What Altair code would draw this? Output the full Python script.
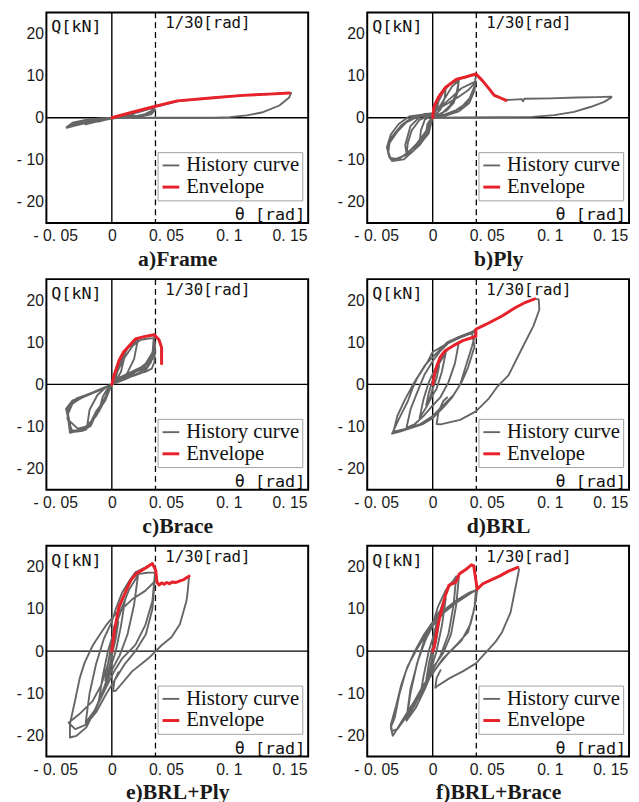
import altair as alt
import pandas as pd

# ---------------- data ----------------
SERIES = ["History curve", "Envelope"]
PANEL_TITLES = ["a)Frame", "b)Ply", "c)Brace", "d)BRL", "e)BRL+Ply", "f)BRL+Brace"]
X_TICKS = [-0.05, 0.0, 0.05, 0.1, 0.15]
X_TICK_LABELS = ["- 0. 05", "0", "0. 05", "0. 1", "0. 15"]
Y_GRID = [-20, -15, -10, -5, 0, 5, 10, 15, 20]
Y_TICK_LABELS = {-20: "- 20", -10: "- 10", 0: "0", 10: "10", 20: "20"}
LIMIT_DRIFT = 1 / 30

FRAME_HIST = [
    (0, 0), (0.003, 0.3), (0.005, 0.5), (0.003, 0.2), (0, -0.1), (-0.003, -0.3), (-0.005, -0.5), (-0.003, -0.2), (0, 0),
    (0.005, 0.4), (0.01, 0.8), (0.007, 0.4), (0.003, 0.1), (0, -0.1), (-0.005, -0.5), (-0.01, -0.9), (-0.007, -0.5), (-0.003, -0.2), (0, 0),
    (0.007, 0.4), (0.014, 0.9), (0.02, 1.5), (0.016, 0.8), (0.01, 0.3), (0.004, 0.05), (0, -0.2), (-0.007, -0.6), (-0.014, -1.1),
    (-0.02, -1.6), (-0.016, -1.0), (-0.01, -0.5), (-0.004, -0.2), (0, 0),
    (0.01, 0.6), (0.02, 1.3), (0.027, 1.9), (0.0333, 2.6), (0.03, 1.6), (0.025, 0.8), (0.018, 0.3), (0.01, 0.1), (0, -0.2),
    (-0.01, -0.7), (-0.02, -1.3), (-0.028, -1.9), (-0.0345, -2.4), (-0.03, -1.5), (-0.022, -0.8), (-0.012, -0.3), (0, 0),
    (0.01, 0.2), (0.02, 0.5), (0.028, 1.0), (0.0333, 1.9), (0.03, 0.8), (0.02, 0.2), (0.01, 0), (0, -0.1), (-0.01, -0.5),
    (-0.02, -1.0), (-0.028, -1.6), (-0.0345, -2.2), (-0.03, -1.2), (-0.02, -0.5), (-0.01, -0.2), (0, 0),
    (0.01, 0.7), (0.02, 1.5), (0.0333, 2.6), (0.05, 3.9), (0.075, 4.7), (0.1, 5.3), (0.12, 5.6), (0.137, 5.9),
    (0.1355, 4.8), (0.128, 2.9), (0.1155, 1.3), (0.103, 0.55), (0.09, 0.15), (0.078, 0), (0.05, 0), (0.02, 0), (0, 0),
]
FRAME_ENV = [(0, 0), (0.0155, 1.3), (0.0325, 2.65), (0.05, 4.0), (0.0755, 4.7), (0.1, 5.3), (0.12, 5.6), (0.1355, 5.86)]

PLY_HIST = [
    (0, 0), (0.002, 2.5), (0.005, 4.5), (0.003, 1.8), (0, 0.3), (-0.002, -1.8), (-0.005, -3.5), (-0.004, -1.5), (0, 0.4),
    (0.003, 3), (0.007, 5.8), (0.01, 7), (0.009, 4.5), (0.006, 2), (0.002, 0.6), (0, 0.3), (-0.003, -3), (-0.007, -5),
    (-0.01, -6), (-0.009, -3), (-0.006, -0.5), (0, 0.8),
    (0.003, 3), (0.008, 6), (0.013, 8), (0.02, 8.9), (0.019, 6), (0.016, 3.5), (0.011, 1.8), (0.005, 0.8), (0, 0.3),
    (-0.003, -3.5), (-0.01, -6.5), (-0.017, -8.5), (-0.02, -8.8), (-0.019, -6), (-0.016, -3), (-0.01, -0.5), (0, 0.9),
    (0.005, 2.5), (0.01, 5), (0.015, 7.5), (0.02, 8.7), (0.018, 5.5), (0.013, 2.8), (0.007, 1.0), (0, 0.4),
    (-0.005, -3.5), (-0.012, -6.5), (-0.02, -8.4), (-0.021, -6.5), (-0.017, -2), (-0.01, 0.2), (0, 0.9),
    (0.001, 2.6), (0.0045, 4.9), (0.0095, 7.1), (0.018, 9.1), (0.0245, 9.6), (0.033, 10.3), (0.032, 7.5), (0.028, 4.5),
    (0.021, 2.2), (0.012, 0.9), (0, 0.2), (-0.003, -3.7), (-0.007, -5.2), (-0.014, -7.6), (-0.022, -9.9), (-0.031, -10.3),
    (-0.034, -8.5), (-0.033, -6), (-0.027, -3.3), (-0.0205, -1.2), (-0.012, 0.2), (-0.004, 0.8), (0, 1),
    (0.004, 2), (0.012, 3.5), (0.02, 5), (0.027, 6.5), (0.033, 8.5), (0.031, 6), (0.026, 3.5), (0.018, 1.8), (0.008, 0.6),
    (0, 0), (-0.004, -3), (-0.01, -5.5), (-0.018, -8), (-0.025, -9.6), (-0.032, -9.9), (-0.0345, -7.5), (-0.031, -4.5),
    (-0.024, -1.8), (-0.016, 0), (-0.006, 0.9), (0, 1),
    (0.006, 2.5), (0.015, 5), (0.022, 7), (0.03, 8.2), (0.033, 8.6), (0.032, 6.5), (0.028, 3.5), (0.02, 1.5),
    (0.01, 0.5), (0, 0), (-0.005, -3.2), (-0.013, -6.5), (-0.02, -8.8), (-0.028, -9.8), (-0.033, -9.5), (-0.035, -7),
    (-0.032, -4), (-0.026, -1.5), (-0.018, 0.3), (0, 1.1),
    (0.001, 3), (0.005, 5.3), (0.01, 7.3), (0.018, 9.2), (0.025, 9.7), (0.033, 10.2), (0.038, 8.8), (0.043, 6.9),
    (0.047, 5.3), (0.051, 4.8), (0.056, 4.2), (0.062, 4.3), (0.068, 4.4), (0.069, 3.9), (0.07, 4.5), (0.09, 4.6),
    (0.11, 4.8), (0.125, 4.9), (0.1365, 5.0), (0.1365, 4.8), (0.131, 3.75), (0.121, 2.6), (0.108, 1.4), (0.093, 0.6),
    (0.076, 0.2), (0.05, 0.1), (0.02, 0.05), (0, 0),
]
PLY_ENV = [(0, 0), (0.001, 2.6), (0.0045, 4.9), (0.0095, 7.1), (0.018, 9.1), (0.0245, 9.6), (0.033, 10.4),
           (0.038, 8.8), (0.043, 6.9), (0.047, 5.3), (0.051, 4.8), (0.056, 4.1)]

BRACE_HIST = [
    (0, 0), (0.002, 2), (0.005, 4), (0.003, 1.5), (0, 0), (-0.003, -2), (-0.005, -3.5), (-0.003, -1), (0, 0),
    (0.005, 3.5), (0.01, 7), (0.007, 3), (0.003, 0.8), (0, 0), (-0.005, -3.5), (-0.01, -6.5), (-0.007, -3), (-0.003, -0.8), (0, 0),
    (0.006, 5), (0.012, 8.5), (0.02, 10.8), (0.017, 6), (0.011, 2.2), (0.004, 0.5), (0, 0), (-0.006, -4), (-0.012, -7.5),
    (-0.019, -10.2), (-0.017, -6), (-0.011, -2.5), (-0.004, -0.5), (0, 0),
    (0.0018, 2.2), (0.0055, 5.7), (0.009, 7.7), (0.018, 10.8), (0.0255, 11.4), (0.0325, 11.8), (0.032, 9), (0.03, 5.3),
    (0.025, 3), (0.016, 2), (0.006, 0.8), (0, 0), (-0.0045, -3.3), (-0.012, -6.4), (-0.017, -9.5), (-0.02, -10.8),
    (-0.026, -11.1), (-0.032, -11.5), (-0.033, -9), (-0.034, -6), (-0.027, -3.3), (-0.0195, -2.5), (-0.0095, -1.3), (0, 0),
    (0.006, 1), (0.0155, 2.2), (0.0255, 3), (0.0305, 3.75), (0.0325, 5.3), (0.033, 8.4), (0.033, 10), (0.03, 6.5),
    (0.025, 4), (0.015, 2.5), (0.005, 1), (0, 0), (-0.006, -4), (-0.013, -7.5), (-0.018, -10), (-0.024, -10.8),
    (-0.031, -11), (-0.0335, -7), (-0.03, -4.5), (-0.022, -3), (-0.012, -1.5), (0, 0),
    (0.005, 1.5), (0.015, 3), (0.025, 4.5), (0.031, 6), (0.033, 9.5), (0.031, 7.5), (0.026, 5), (0.018, 3),
    (0.008, 1.2), (0, 0), (-0.005, -3.8), (-0.012, -7), (-0.016, -9.8), (-0.022, -11), (-0.03, -11.3), (-0.034, -8),
    (-0.032, -5), (-0.025, -3.5), (-0.015, -2), (0, 0),
    (0.004, 3), (0.01, 6.5), (0.016, 9.2), (0.022, 10.6), (0.028, 10.9), (0.032, 11), (0.031, 7), (0.027, 4),
    (0.02, 2.6), (0.01, 1.2), (0, 0), (-0.008, -4.8), (-0.014, -8.2), (-0.02, -10), (-0.026, -10.5), (-0.033, -8.5),
    (-0.035, -5.8), (-0.03, -3.8), (-0.02, -2.8), (-0.01, -1.5), (0, 0),
    (0.0018, 2.2), (0.0055, 5.7), (0.009, 7.7), (0.018, 10.8), (0.0255, 11.4), (0.0325, 11.7), (0.036, 10.5),
    (0.038, 8.8), (0.038, 5),
]
BRACE_ENV = [(0, 0), (0.00175, 2.2), (0.0055, 5.7), (0.009, 7.7), (0.018, 10.8), (0.0255, 11.4), (0.0325, 11.8),
             (0.036, 10.6), (0.038, 8.8), (0.038, 4.9)]

BRL_HIST = [
    (0, 0), (0.002, 2.5), (0.005, 4.5), (0.003, 1.5), (0, -1), (-0.002, -3), (-0.005, -5), (-0.003, -2), (0, 1),
    (0.004, 4.5), (0.01, 7.5), (0.007, 3), (0.003, -1), (0, -2.5), (-0.005, -5.5), (-0.01, -8), (-0.007, -3.5),
    (-0.003, 0.5), (0, 2.5),
    (0.006, 6), (0.012, 8.5), (0.02, 10), (0.017, 5), (0.012, 0.5), (0.006, -3), (0, -5), (-0.007, -7.5), (-0.014, -9.5),
    (-0.02, -10.3), (-0.017, -6), (-0.012, -2), (-0.006, 2.5), (0, 5.5),
    (0.006, 8), (0.012, 9.8), (0.02, 11), (0.028, 12), (0.033, 12.5), (0.03, 9), (0.025, 4), (0.021, 0), (0.015, -3),
    (0.008, -5.5), (0, -8), (-0.008, -9.5), (-0.018, -10.5), (-0.025, -11.2), (-0.031, -11.7), (-0.0255, -8),
    (-0.019, -4), (-0.0155, -1), (-0.012, 1.4), (-0.004, 5.3), (0, 7.7),
    (0.01, 9.5), (0.02, 11), (0.03, 12.2), (0.032, 9), (0.027, 4), (0.022, 0.5), (0.016, -2.5), (0.008, -5),
    (0, -7.5), (-0.01, -9.5), (-0.02, -10.5), (-0.03, -11.2), (-0.027, -7.5), (-0.021, -3.5), (-0.014, 0.5),
    (-0.006, 4.5), (0, 6.5),
    (0.011, 10), (0.02, 11.3), (0.03, 12.5),
    (0.033, 13.1), (0.041, 14.3), (0.053, 16.25), (0.063, 18.2), (0.071, 19.5), (0.078, 20.3), (0.081, 20.2),
    (0.0815, 17.8), (0.077, 13.9), (0.068, 8.4), (0.058, 2.2), (0.0495, -0.5), (0.043, -3.3), (0.033, -6.4),
    (0.021, -8.4), (0.006, -9.5), (0.003, -9.4), (0.0045, -6.4), (0.008, -4), (0.011, -3.1),
]
BRL_ENV = [(0, 0), (0.00125, 2.2), (0.00325, 4.5), (0.00575, 6.5), (0.0095, 8.0), (0.0158, 9.2), (0.023, 10.4),
           (0.031, 11.2), (0.033, 11.4), (0.033, 13.1), (0.041, 14.3), (0.053, 16.25), (0.063, 18.2), (0.071, 19.5),
           (0.078, 20.3)]

BRLPLY_HIST = [
    (0, 0), (0.002, 4), (0.005, 7), (0.003, 3), (0, -1), (-0.002, -4), (-0.005, -7), (-0.003, -3), (0, 1),
    (0.004, 7), (0.01, 12), (0.007, 6), (0.003, 0), (0, -3), (-0.004, -7), (-0.01, -12), (-0.007, -6), (-0.003, 0), (0, 3),
    (0.006, 9), (0.013, 14.5), (0.02, 18), (0.017, 11), (0.012, 4), (0.006, -1), (0, -4.5), (-0.006, -9), (-0.013, -14),
    (-0.02, -17), (-0.017, -10), (-0.012, -3), (-0.006, 3), (0, 7),
    (0.003, 10), (0.008, 14), (0.014, 17), (0.02, 18.3), (0.027, 18.6), (0.033, 18.7), (0.031, 11.9), (0.0255, 6.1),
    (0.018, 1.5), (0.008, -1.7), (0.0018, -4.8), (-0.005, -9), (-0.012, -13.5), (-0.0195, -18.1), (-0.027, -20.1),
    (-0.032, -20.5), (-0.032, -17.3), (-0.028, -11.6), (-0.0245, -6.4), (-0.021, -2.9), (-0.018, -0.9), (-0.0145, 1.4),
    (-0.0095, 3.75), (-0.0045, 6.1), (0, 7.8), (0.004, 9.2), (0.0105, 10.8), (0.0155, 12.3), (0.0255, 14.3),
    (0.032, 16.3), (0.033, 17.5), (0.031, 10), (0.026, 4), (0.018, 0), (0.01, -3), (0.003, -6.5), (-0.004, -10),
    (-0.012, -14.5), (-0.02, -17.5), (-0.028, -18.5), (-0.033, -17), (-0.025, -15), (-0.015, -12), (-0.008, -8),
    (-0.003, -3), (0, 2), (0.002, 6),
    (0.002, 5), (0.0055, 10.1), (0.0105, 14), (0.0143, 17.1), (0.018, 18.7), (0.0256, 19.9), (0.031, 20.8),
    (0.0335, 19.2), (0.0345, 16.4), (0.036, 15.7), (0.038, 16.2), (0.04, 15.9), (0.042, 16.3), (0.044, 16.0),
    (0.046, 16.4), (0.049, 16.3), (0.052, 16.7), (0.055, 17.0), (0.057, 17.4), (0.059, 17.8), (0.058, 14.3),
    (0.057, 11.9), (0.052, 6.4), (0.0455, 3.3), (0.038, 1.4), (0.028, -1.7), (0.0155, -4.8), (0.003, -9.4),
    (0.001, -9.5), (0.002, -7), (0.005, -5),
]
BRLPLY_ENV = [(0, 0), (0.002, 5), (0.0055, 10.6), (0.0105, 14.1), (0.0145, 16.8), (0.0185, 18.4), (0.0256, 19.7),
              (0.031, 20.8), (0.0335, 19.2), (0.0345, 16.4), (0.036, 15.7), (0.038, 16.2), (0.04, 15.9),
              (0.042, 16.3), (0.044, 16.0), (0.046, 16.4), (0.049, 16.3), (0.052, 16.7), (0.055, 17.0),
              (0.057, 17.4), (0.059, 17.8)]

BRLBRACE_HIST = [
    (0, 0), (0.002, 4), (0.005, 7), (0.003, 3), (0, -1), (-0.002, -4), (-0.005, -7), (-0.003, -3), (0, 1),
    (0.004, 7), (0.01, 12.5), (0.007, 6), (0.003, 0), (0, -3), (-0.004, -7), (-0.01, -11.5), (-0.007, -6), (-0.003, 0), (0, 3),
    (0.005, 9), (0.012, 15), (0.018, 17.8), (0.016, 11), (0.012, 4), (0.006, -1), (0, -4.5), (-0.006, -9), (-0.013, -13.5),
    (-0.02, -16.5), (-0.017, -10), (-0.012, -3), (-0.006, 3), (0, 6.5),
    (0.004, 10.5), (0.01, 14.5), (0.015, 16.5), (0.02, 17.6), (0.018, 11), (0.014, 4), (0.008, -0.5), (0, -4),
    (-0.007, -8.5), (-0.014, -13), (-0.02, -16), (-0.017, -9), (-0.011, -2), (-0.005, 3), (0, 6),
    (0.004, 9), (0.007, 10.1), (0.0095, 13), (0.0125, 15.7), (0.0175, 16.3), (0.0205, 18.4), (0.025, 19.3),
    (0.0296, 20.5), (0.0313, 20.3), (0.0338, 15.2), (0.034, 14.7),
    (0.033, 12), (0.031, 9.2), (0.027, 4.5), (0.018, 1.4), (0.008, -1.7), (0.001, -4.8), (-0.007, -8), (-0.014, -11.9),
    (-0.022, -15.8), (-0.028, -18.9), (-0.0305, -20.1), (-0.032, -18.1), (-0.029, -15.8), (-0.0255, -10.3),
    (-0.0205, -4.8), (-0.014, -0.2), (-0.007, 3.75), (0, 6.9), (0.008, 9.6), (0.018, 12), (0.028, 13.9), (0.033, 14.5),
    (0.032, 10.5), (0.029, 6.5), (0.022, 2.5), (0.012, -0.5), (0.004, -3.5), (-0.005, -7.5), (-0.013, -12),
    (-0.021, -16), (-0.027, -18.5), (-0.031, -19), (-0.032, -17.5), (-0.028, -13), (-0.024, -8), (-0.019, -3.5),
    (-0.012, 0.5), (-0.005, 4), (0, 6), (0.008, 9), (0.018, 11.5), (0.028, 13.5), (0.034, 14.7),
    (0.038, 15.9), (0.043, 16.6), (0.051, 17.8), (0.058, 19), (0.065, 19.9), (0.066, 19.4), (0.063, 14.7),
    (0.0595, 9.2), (0.053, 4.5), (0.048, 2.2), (0.041, -0.2), (0.033, -2.9), (0.023, -4.8), (0.013, -6.4),
    (0.003, -8.4), (0.002, -8.7), (0.003, -6.4), (0.006, -4.5),
]
BRLBRACE_ENV = [(0, 0), (0.0012, 1), (0.004, 6.2), (0.007, 10.1), (0.0095, 13), (0.0125, 15.7), (0.0175, 16.3),
                (0.0205, 18.4), (0.025, 19.3), (0.0296, 20.5), (0.0313, 20.3), (0.0338, 15.2), (0.034, 14.7),
                (0.0383, 16.0), (0.0459, 17.1), (0.051, 17.8), (0.058, 19), (0.065, 19.9)]

PANELS = [
    (FRAME_HIST, FRAME_ENV), (PLY_HIST, PLY_ENV), (BRACE_HIST, BRACE_ENV),
    (BRL_HIST, BRL_ENV), (BRLPLY_HIST, BRLPLY_ENV), (BRLBRACE_HIST, BRLBRACE_ENV),
]

# ---------------- styling ----------------
GRAY = "#656565"
RED = "#e8222a"
MONO = "DejaVu Sans Mono"
SANS = "Liberation Sans"
SERIF = "Liberation Serif"
W, H = 266, 214
X_LABEL_SHIFT = [9, 0, -11.5, -14, -19]

x_expr = "'" + X_TICK_LABELS[-1] + "'"
for k in reversed(range(len(X_TICKS) - 1)):
    mid = (X_TICKS[k] + X_TICKS[k + 1]) / 2
    x_expr = f"datum.value < {mid} ? '{X_TICK_LABELS[k]}' : ({x_expr})"

y_expr = "''"
for v, lab in Y_TICK_LABELS.items():
    y_expr = f"abs(datum.value - ({v})) < 0.01 ? '{lab}' : ({y_expr})"

x_offset = {
    "condition": [
        {"test": f"abs(datum.value - ({t})) < 0.001", "value": s}
        for t, s in zip(X_TICKS, X_LABEL_SHIFT)
    ],
    "value": 0,
}
x_grid_color = {
    "condition": {"test": "datum.value < -0.049 || datum.value > 0.149", "value": "transparent"},
    "value": "#d4d4d4",
}

xs = alt.Scale(domain=[-0.05, 0.15], nice=False, zero=False)
ys = alt.Scale(domain=[-25, 25], nice=False, zero=False)
cs = alt.Scale(domain=SERIES, range=[GRAY, RED])
ws = alt.Scale(domain=SERIES, range=[1.9, 3.0])

one = pd.DataFrame({"k": [0]})


def make_panel(hist, env, title):
    xa = alt.Axis(values=X_TICKS, labelExpr=x_expr, labelOffset=x_offset, labelFlush=False, labelOverlap=False,
                  gridColor=x_grid_color, title=title, titleFont=SERIF, titleFontSize=22, titleFontWeight="bold",
                  titleColor="#1a1a1a", titlePadding=5, labelPadding=5, minExtent=21, maxExtent=21)
    ya = alt.Axis(values=Y_GRID, labelExpr=y_expr, title=None, labelPadding=3, minExtent=33, maxExtent=33,
                  labelOverlap=False, labelFlush=False)
    leg = alt.Legend(title=None, orient="none", legendX=113, legendY=142, symbolType="stroke", symbolSize=289,
                     labelFont=SERIF, labelFontSize=21, labelColor="#111", strokeColor="#a0a0a0",
                     fillColor="white", padding=3, rowPadding=0, labelOffset=5)

    hdf = pd.DataFrame(hist, columns=["t", "q"])
    hdf["i"] = range(len(hdf))
    hdf["s"] = SERIES[0]
    edf = pd.DataFrame(env, columns=["t", "q"])
    edf["i"] = range(len(edf))
    edf["s"] = SERIES[1]

    def xd(v):
        return alt.XDatum(v, type="quantitative", scale=xs, axis=xa)

    def yd(v):
        return alt.YDatum(v, type="quantitative", scale=ys, axis=ya)

    zero_v = alt.Chart(one).mark_rule(color="black", strokeWidth=1.4).encode(x=xd(0))
    zero_h = alt.Chart(one).mark_rule(color="black", strokeWidth=1.4).encode(y=yd(0))
    dash = alt.Chart(one).mark_rule(color="black", strokeWidth=1.3, strokeDash=[6, 4]).encode(x=xd(LIMIT_DRIFT))

    def curve(df):
        return alt.Chart(df).mark_line(strokeJoin="round", strokeCap="round").encode(
            x=alt.X("t:Q", scale=xs, axis=xa),
            y=alt.Y("q:Q", scale=ys, axis=ya),
            color=alt.Color("s:N", scale=cs, legend=leg),
            strokeWidth=alt.StrokeWidth("s:N", scale=ws, legend=leg),
            order=alt.Order("i:Q"),
        )

    q_text = alt.Chart(one).mark_text(text="Q[kN]", align="left", baseline="middle", dx=5, dy=15,
                                      font=MONO, fontSize=17, color="#111").encode(x=xd(-0.05), y=yd(25))
    lim_text = alt.Chart(one).mark_text(text="1/30[rad]", align="left", baseline="middle", dx=10, dy=11,
                                        font=MONO, fontSize=16, color="#111").encode(x=xd(LIMIT_DRIFT), y=yd(25))
    th_text = alt.Chart(one).mark_text(text="θ [rad]", align="right", baseline="middle", dx=-3, dy=-8,
                                       font=MONO, fontSize=17, color="#111").encode(x=xd(0.15), y=yd(-25))

    return alt.layer(zero_v, zero_h, dash, curve(hdf), curve(edf), q_text, lim_text, th_text).properties(
        width=W, height=H)


panels = [make_panel(h, e, t) for (h, e), t in zip(PANELS, PANEL_TITLES)]
rows = [
    alt.hconcat(panels[i], panels[i + 1], spacing=24).resolve_scale(color="independent", strokeWidth="independent")
    for i in (0, 2, 4)
]
chart = (
    alt.vconcat(*rows, spacing=7)
    .resolve_scale(color="independent", strokeWidth="independent")
    .properties(padding={"left": 5, "top": -4, "right": 0, "bottom": 4}, background="white")
    .configure_view(stroke="black", strokeWidth=2)
    .configure_axis(labelFont=SANS, labelFontSize=16, labelColor="#1a1a1a", gridColor="#d4d4d4", gridWidth=1.2,
                    ticks=False, domain=False)
)

chart.save("out.html", embed_options={"renderer": "svg", "actions": False})
